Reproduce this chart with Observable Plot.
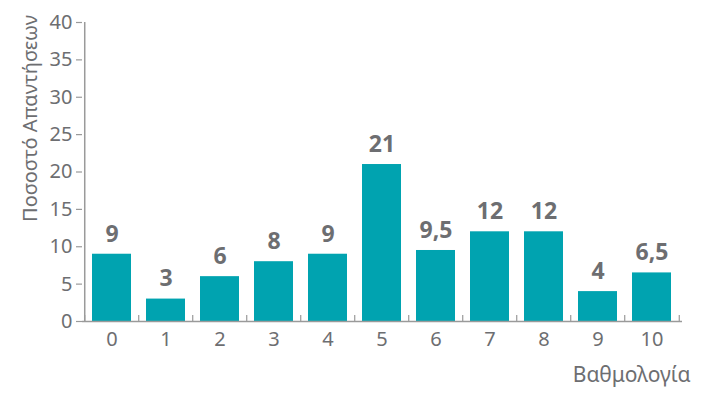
<!DOCTYPE html>
<html>
<head>
<meta charset="utf-8">
<script src="https://cdn.jsdelivr.net/npm/d3@7"></script>
<script src="https://cdn.jsdelivr.net/npm/@observablehq/plot@0.6"></script>
<style>
  html, body { margin: 0; padding: 0; background: #fff; }
</style>
</head>
<body>
<div id="chart"></div>
<script>
const categories = ["0","1","2","3","4","5","6","7","8","9","10"];
const values = [9, 3, 6, 8, 9, 21, 9.5, 12, 12, 4, 6.5];
const yTicks = [0, 5, 10, 15, 20, 25, 30, 35, 40];
const yLabel = "Ποσοστό Απαντήσεων";
const xLabel = "Βαθμολογία";

const data = categories.map((c, i) => ({cat: c, value: values[i]}));

const W = 709, H = 396;
const mL = 82, mR = 27, mT = 22, mB = 75;
const step = (W - mL - mR) / categories.length;
const axisColor = "#9a9a9a";
const textColor = "#6d6e71";
const barColor = "#00a3b0";
const font = "'Noto Sans', 'Open Sans', sans-serif";

const chart = Plot.plot({
  width: W,
  height: H,
  marginLeft: mL,
  marginRight: mR,
  marginTop: mT,
  marginBottom: mB,
  style: {fontFamily: font, fontSize: "20px", color: textColor, background: "#fff"},
  x: {domain: categories, paddingInner: 0.27, paddingOuter: 0.135, align: 0.5},
  y: {domain: [0, 40]},
  marks: [
    Plot.barY(data, {x: "cat", y: "value", fill: barColor}),
    // y axis line (left boundary of first band)
    Plot.ruleX([categories[0]], {x: d => d, y1: 0, y2: 40, dx: -step / 2, stroke: axisColor, strokeWidth: 1.5}),
    // baseline
    Plot.ruleY([0], {stroke: axisColor, strokeWidth: 1.5}),
    // category boundary ticks (pointing up)
    Plot.ruleX(categories, {x: d => d, y1: 0, y2: 0.8, dx: -step / 2, stroke: axisColor, strokeWidth: 1.2}),
    Plot.ruleX([categories[categories.length - 1]], {x: d => d, y1: 0, y2: 0.8, dx: step / 2, stroke: axisColor, strokeWidth: 1.2}),
    Plot.axisY({ticks: yTicks, tickSize: 6, tickPadding: 4, stroke: axisColor, strokeWidth: 1.2, fill: textColor, fontSize: 20, label: null}),
    Plot.axisX({tickSize: 0, tickPadding: 10, fill: textColor, fontSize: 20, label: null}),
    Plot.text(data, {
      x: "cat", y: "value",
      text: d => String(d.value).replace(".", ","),
      dy: -20, fill: textColor, fontWeight: "bold", fontSize: 23
    }),
    Plot.text([yLabel], {
      text: d => d, frameAnchor: "top-left", rotate: -90,
      dx: -60, dy: 96, fill: textColor, fontSize: 20, textAnchor: "middle"
    }),
    Plot.text([xLabel], {
      text: d => d, frameAnchor: "bottom-right",
      dx: 8, dy: 60, fill: textColor, fontSize: 21, textAnchor: "end"
    })
  ]
});
document.getElementById("chart").appendChild(chart);
</script>
</body>
</html>
